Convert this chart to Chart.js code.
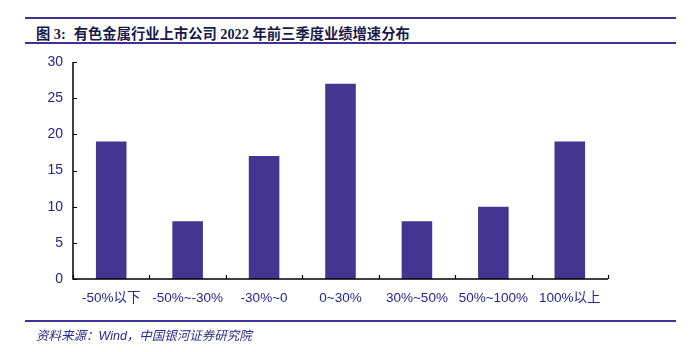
<!DOCTYPE html>
<html><head><meta charset="utf-8">
<script src="https://cdn.jsdelivr.net/npm/chart.js@4/dist/chart.umd.min.js"></script>
<style>
html,body{margin:0;padding:0;background:#fff;}
#wrap{position:relative;width:690px;height:352px;overflow:hidden;}
canvas{position:absolute;left:0;top:0;}
.rule{position:absolute;left:25px;width:651px;height:2px;background:#3b3494;}
#title{position:absolute;left:36px;top:22px;font-family:"Liberation Serif","Noto Sans CJK SC",serif;font-weight:bold;font-size:14.3px;color:#1a1a4a;white-space:nowrap;}
#title .cn{font-family:"Noto Sans CJK SC",sans-serif;}
#title .gap{display:inline-block;width:8px;}
#src{position:absolute;left:36px;top:325px;font-family:"Liberation Sans","Noto Sans CJK SC",sans-serif;font-style:italic;font-size:12.5px;color:#2a2a8a;white-space:nowrap;}
</style></head>
<body>
<div id="wrap">
<div class="rule" style="top:17px"></div>
<div id="title"><span class="cn">图</span> 3:<span class="gap"></span><span class="cn">有色金属行业上市公司</span> 2022 <span class="cn">年前三季度业绩增速分布</span></div>
<div class="rule" style="top:42px"></div>
<canvas id="c" width="690" height="352"></canvas>
<div class="rule" style="top:320px"></div>
<div id="src">资料来源：Wind，中国银河证券研究院</div>
</div>
<script>
const categories = ["-50%以下", "-50%~-30%", "-30%~0", "0~30%", "30%~50%", "50%~100%", "100%以上"];
const counts = [19, 8, 17, 27, 8, 10, 19];
const yTicks = [0, 5, 10, 15, 20, 25, 30];

const tickColor = '#25258f';
const innerTicks = {
  id: 'innerTicks',
  afterDraw(chart) {
    const ctx = chart.ctx, x = chart.scales.x, y = chart.scales.y;
    const area = chart.chartArea;
    ctx.save();
    ctx.strokeStyle = '#000';
    ctx.lineWidth = 1.2;
    ctx.beginPath();
    yTicks.forEach(v => {
      const py = Math.round(y.getPixelForValue(v)) + 0.5;
      ctx.moveTo(area.left, py); ctx.lineTo(area.left + 4, py);
    });
    const n = categories.length;
    for (let i = 0; i <= n; i++) {
      let px;
      if (i === 0) px = area.left;
      else if (i === n) px = area.right;
      else px = (x.getPixelForValue(i - 1) + x.getPixelForValue(i)) / 2;
      px = Math.round(px) + 0.5;
      ctx.moveTo(px, area.bottom); ctx.lineTo(px, area.bottom - 4);
    }
    ctx.stroke();
    ctx.lineWidth = 1.5;
    ctx.beginPath();
    ctx.moveTo(area.left, area.top); ctx.lineTo(area.left, area.bottom); ctx.lineTo(area.right, area.bottom);
    ctx.stroke();
    ctx.restore();
  }
};

new Chart(document.getElementById('c'), {
  type: 'bar',
  data: {
    labels: categories,
    datasets: [{ data: counts, backgroundColor: '#433591', borderWidth: 0, barPercentage: 0.4, categoryPercentage: 1.0 }]
  },
  options: {
    responsive: false,
    animation: false,
    layout: { padding: { left: 0, right: 82, top: 62, bottom: 0 } },
    plugins: { legend: { display: false }, tooltip: { enabled: false } },
    scales: {
      x: {
        grid: { display: false, drawTicks: false },
        border: { display: false },
        ticks: { color: tickColor, font: { family: '"Liberation Sans","Noto Sans CJK SC",sans-serif', size: 13.5 }, padding: 11, maxRotation: 0, autoSkip: false },
        afterFit(s) { s.height = 73; }
      },
      y: {
        min: 0, max: 30,
        afterBuildTicks(s) { s.ticks = yTicks.map(v => ({ value: v })); },
        grid: { display: false, drawTicks: false },
        border: { display: false },
        ticks: { color: tickColor, font: { family: '"Liberation Sans",sans-serif', size: 14 }, padding: 10 },
        afterFit(s) { s.width = 73; }
      }
    }
  },
  plugins: [innerTicks]
});
</script>
</body></html>
